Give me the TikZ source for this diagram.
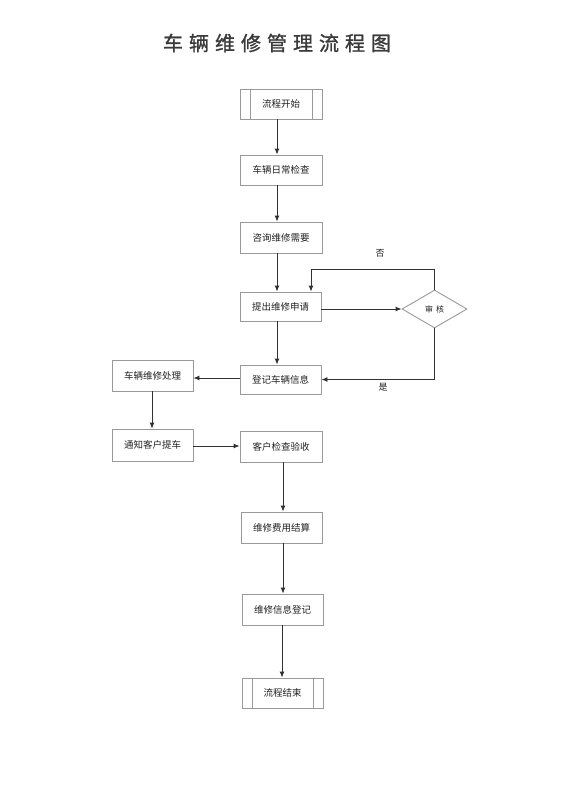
\documentclass[tikz,border=0pt]{standalone}
\usepackage{fontspec}
\setmainfont{Noto Sans CJK SC}
\newfontfamily\cjk{Noto Sans CJK SC}
\newfontfamily\cjktitle[FakeBold=1.2]{Noto Sans CJK SC}
\usetikzlibrary{shapes.geometric,arrows.meta,calc}
\definecolor{boxline}{HTML}{9A9A9A}
\definecolor{arrline}{HTML}{333333}
\definecolor{txt}{HTML}{222222}
\definecolor{titlecol}{HTML}{3A3A3A}
\tikzset{
  stepbox/.style={draw=boxline, line width=0.9pt, rectangle, minimum width=81pt, minimum height=30pt, inner sep=0pt, font=\cjk\fontsize{9.5}{11}\selectfont, text=txt},
  termbox/.style={stepbox, path picture={
      \draw[boxline, line width=0.9pt] ([xshift=10pt]path picture bounding box.north west) -- ([xshift=10pt]path picture bounding box.south west);
      \draw[boxline, line width=0.9pt] ([xshift=-10pt]path picture bounding box.north east) -- ([xshift=-10pt]path picture bounding box.south east);}},
  decbox/.style={draw=boxline, line width=0.9pt, diamond, minimum width=65pt, minimum height=38pt, inner sep=0pt, font=\cjk\fontsize{8}{10}\selectfont, text=txt},
  arr/.style={draw=arrline, line width=0.9pt, -{Latex[length=6pt,width=5pt]}},
  lbl/.style={font=\cjk\fontsize{9}{11}\selectfont, text=txt}
}
\begin{document}
\begin{tikzpicture}[x=1pt,y=-1pt]
\useasboundingbox (0,0) rectangle (560,792);
\fill[white] (0,0) rectangle (560,792);
\node[font=\cjktitle\fontsize{20}{24}\selectfont, text=titlecol] (title) at (277,43)
  {车\hspace{6pt}辆\hspace{6pt}维\hspace{6pt}修\hspace{6pt}管\hspace{6pt}理\hspace{6pt}流\hspace{6pt}程\hspace{6pt}图};

\node[termbox, minimum width=82pt] (s) at (281,104) {流程开始};
\node[stepbox, minimum width=82pt] (b2) at (281,170) {车辆日常检查};
\node[stepbox, minimum width=82pt, minimum height=31pt] (b3) at (281,237.5) {咨询维修需要};
\node[stepbox, minimum height=29pt] (b4) at (280.5,306.5) {提出维修申请};
\node[decbox] (d) at (434.5,309) {审\hspace{3pt}核};
\node[stepbox, minimum height=29pt] (b5) at (280.5,379.5) {登记车辆信息};
\node[stepbox, minimum height=31pt] (b6) at (152.5,375.5) {车辆维修处理};
\node[stepbox, minimum height=32pt] (b7) at (152.5,445) {通知客户提车};
\node[stepbox, minimum width=82pt, minimum height=31pt] (b8) at (281,446.5) {客户检查验收};
\node[stepbox, minimum height=31pt] (b9) at (281.5,527.5) {维修费用结算};
\node[stepbox, minimum height=31pt] (b10) at (282.5,609.5) {维修信息登记};
\node[termbox] (e) at (282.5,693) {流程结束};

\draw[arr] ([xshift=-4pt]s.south) -- ([xshift=-4pt]b2.north);
\draw[arr] ([xshift=-4pt]b2.south) -- ([xshift=-4pt]b3.north);
\draw[arr] ([xshift=-4pt]b3.south) -- ([xshift=-3.5pt]b4.north);
\draw[arr] ([xshift=-3.5pt]b4.south) -- ([xshift=-3.5pt]b5.north);
\draw[arr] (b4.east|-d.west) -- (d.west);
\draw[arr] (d.north) -- ++(0,-20) -| ([xshift=30.5pt]b4.north);
\draw[arr] (d.south) |- (b5.east);
\draw[arr] ([yshift=1.5pt]b5.west) -- ([yshift=1.5pt]b5.west -| b6.east);
\draw[arr] ([xshift=-0.5pt]b6.south) -- ([xshift=-0.5pt]b7.north);
\draw[arr] ([yshift=-1pt]b7.east) -- ([yshift=-1pt]b7.east -| b8.west);
\draw[arr] ([xshift=2pt]b8.south) -- ([xshift=1.5pt]b9.north);
\draw[arr] ([xshift=1.5pt]b9.south) -- ([xshift=0.5pt]b10.north);
\draw[arr] ([xshift=-0.5pt]b10.south) -- ([xshift=-0.5pt]e.north);

\node[lbl] (no) at (380,253) {否};
\node[lbl] (yes) at (383,387) {是};
\end{tikzpicture}
\end{document}
